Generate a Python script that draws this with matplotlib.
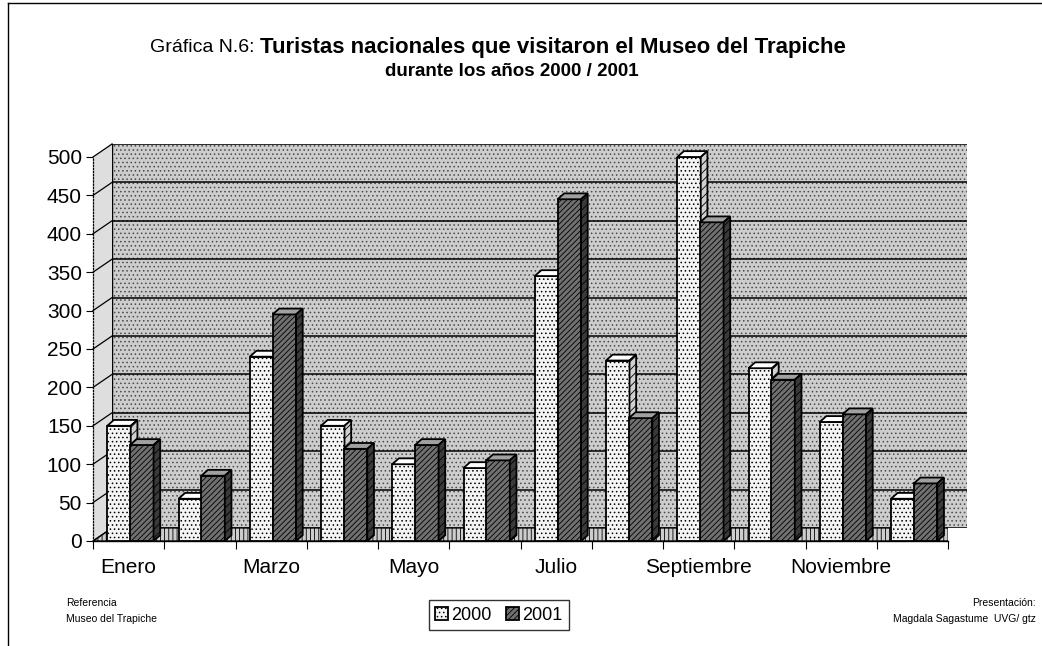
import matplotlib
matplotlib.use("Agg")
import matplotlib.pyplot as plt
from matplotlib.patches import Polygon, Rectangle
import numpy as np

plt.rcParams['font.family'] = ['Liberation Sans', 'DejaVu Sans']
plt.rcParams['hatch.linewidth'] = 0.6

months = ["Enero", "Febrero", "Marzo", "Abril", "Mayo", "Junio", "Julio",
          "Agosto", "Septiembre", "Octubre", "Noviembre", "Diciembre"]
tick_labels = ["Enero", "", "Marzo", "", "Mayo", "", "Julio", "",
               "Septiembre", "", "Noviembre", ""]
v2000 = [150, 55, 240, 150, 100, 95, 345, 235, 500, 225, 155, 55]
v2001 = [125, 85, 295, 120, 125, 105, 445, 160, 415, 210, 165, 75]
series_names = ["2000", "2001"]
yticks = list(range(0, 501, 50))

W, H = 1042, 646
fig = plt.figure(figsize=(W / 100, H / 100), dpi=100)
fig.patch.set_facecolor('white')

# front axes geometry (pixels)
L, R, B, T = 93, 948, 541, 157
offx, offy = 19, 13  # 3D depth offset in pixels
ax_back = fig.add_axes([(L + offx) / W, (H - B + offy) / H, (R - L) / W, (B - T) / H])
ax = fig.add_axes([L / W, (H - B) / H, (R - L) / W, (B - T) / H])

# back wall
ax_back.set_xlim(-0.5, 11.5)
ax_back.set_ylim(0, 500)
ax_back.set_facecolor('#cdcdcd')
ax_back.add_patch(Rectangle((0, 0), 1, 1, transform=ax_back.transAxes, facecolor='none',
                            edgecolor='#4a4a4a', hatch='....', lw=0, zorder=0))
for y in yticks:
    ax_back.axhline(y, color='black', lw=1.1, zorder=1)
ax_back.set_xticks([])
ax_back.set_yticks([])
for s in ax_back.spines.values():
    s.set_visible(False)
ax_back.spines['left'].set_visible(True)
ax_back.spines['left'].set_linewidth(1.0)

# front axes
ax.set_xlim(-0.5, 11.5)
ax.set_ylim(0, 500)
ax.patch.set_alpha(0)
x = np.arange(len(months))
bw = 0.33
dx = offx / (R - L) * 12          # depth offset in data units (x)
dy = offy / (B - T) * 500         # depth offset in data units (y)

# left wall (dotted) and floor
lwall = Polygon([(-0.5, 0), (-0.5 + dx, dy), (-0.5 + dx, 500 + dy), (-0.5, 500)], closed=True,
                facecolor='#dedede', edgecolor='none', hatch='....', lw=0, zorder=0.5,
                clip_on=False)
ax.add_patch(lwall)
floor = Polygon([(-0.5, 0), (11.5, 0), (11.5 + dx, dy), (-0.5 + dx, dy)], closed=True,
                facecolor='#cdcdcd', edgecolor='black', hatch='||||', lw=0.9, zorder=1)
ax.add_patch(floor)
for y in yticks:
    ax.plot([-0.5, -0.5 + dx], [y, y + dy], color='black', lw=0.9, zorder=1, clip_on=False)

styles = [dict(face='#f4f4f4', top='#ffffff', side='#d0d0d0', hatch='....'),
          dict(face='#707070', top='#a0a0a0', side='#3a3a3a', hatch='//////')]
offsets = [-0.30, 0.02]
for si, vals in enumerate([v2000, v2001]):
    st = styles[si]
    pos = x + offsets[si]
    bars = ax.bar(pos, vals, width=bw, align='edge', facecolor=st['face'], edgecolor='black',
                  hatch=st['hatch'], lw=1.3, zorder=3 + si, label=series_names[si])
    for b in bars:
        x0, w, h = b.get_x(), b.get_width(), b.get_height()
        ddx, ddy = dx * 0.35, dy * 0.45
        top = Polygon([(x0, h), (x0 + w, h), (x0 + w + ddx, h + ddy), (x0 + ddx, h + ddy)],
                      closed=True, facecolor=st['top'], edgecolor='black', lw=1.3,
                      zorder=3 + si, clip_on=False)
        side = Polygon([(x0 + w, 0), (x0 + w + ddx, ddy), (x0 + w + ddx, h + ddy), (x0 + w, h)],
                       closed=True, facecolor=st['side'], edgecolor='black', lw=1.3,
                       zorder=3 + si, hatch='////', clip_on=False)
        ax.add_patch(top)
        ax.add_patch(side)

ax.set_yticks(yticks)
ax.set_yticklabels([str(v) for v in yticks], fontsize=15)
ax.set_xticks(x)
ax.set_xticklabels(tick_labels, fontsize=15)
ax.tick_params(axis='x', length=0, pad=12)
ax.set_xticks(np.arange(-0.5, 12, 1), minor=True)
ax.tick_params(axis='x', which='minor', length=6, width=0.8, direction='out')
ax.tick_params(axis='y', length=5, width=0.8, direction='out', pad=3)
for s in ['top', 'right']:
    ax.spines[s].set_visible(False)
ax.spines['left'].set_linewidth(0.9)
ax.spines['left'].set_linestyle((0, (1, 1.5)))
ax.spines['bottom'].set_linewidth(1.0)

# title
fig.text(150 / W, 1 - 48 / H, "Gráfica N.6:", ha='left', va='center', fontsize=14)
fig.text(260 / W, 1 - 48 / H, "Turistas nacionales que visitaron el Museo del Trapiche",
         ha='left', va='center', fontsize=16, fontweight='bold')
fig.text(512 / W, 1 - 71 / H, "durante los años 2000 / 2001", ha='center', va='center',
         fontsize=13.5, fontweight='bold')

# legend
leg = fig.legend(loc='center', bbox_to_anchor=(499 / W, 1 - 615 / H), ncol=2, fontsize=13,
                 frameon=True, fancybox=False, edgecolor='black', handlelength=0.7,
                 handleheight=0.7, handletextpad=0.2, columnspacing=0.8, borderpad=0.35)
leg.get_frame().set_linewidth(1.0)

# footnotes
fig.text(66 / W, 1 - 603 / H, "Referencia", fontsize=7.5, va='center')
fig.text(66 / W, 1 - 619 / H, "Museo del Trapiche", fontsize=7.5, va='center')
fig.text(1036 / W, 1 - 603 / H, "Presentación:", fontsize=7.5, va='center', ha='right')
fig.text(1036 / W, 1 - 619 / H, "Magdala Sagastume  UVG/ gtz", fontsize=7.5, va='center', ha='right')

# outer frame lines
fig.add_artist(plt.Line2D([8 / W, 8 / W], [0, 1 - 3 / H], color='black', lw=1.0))
fig.add_artist(plt.Line2D([8 / W, 1], [1 - 3 / H, 1 - 3 / H], color='black', lw=1.0))

fig.savefig("out.png", dpi=100)
